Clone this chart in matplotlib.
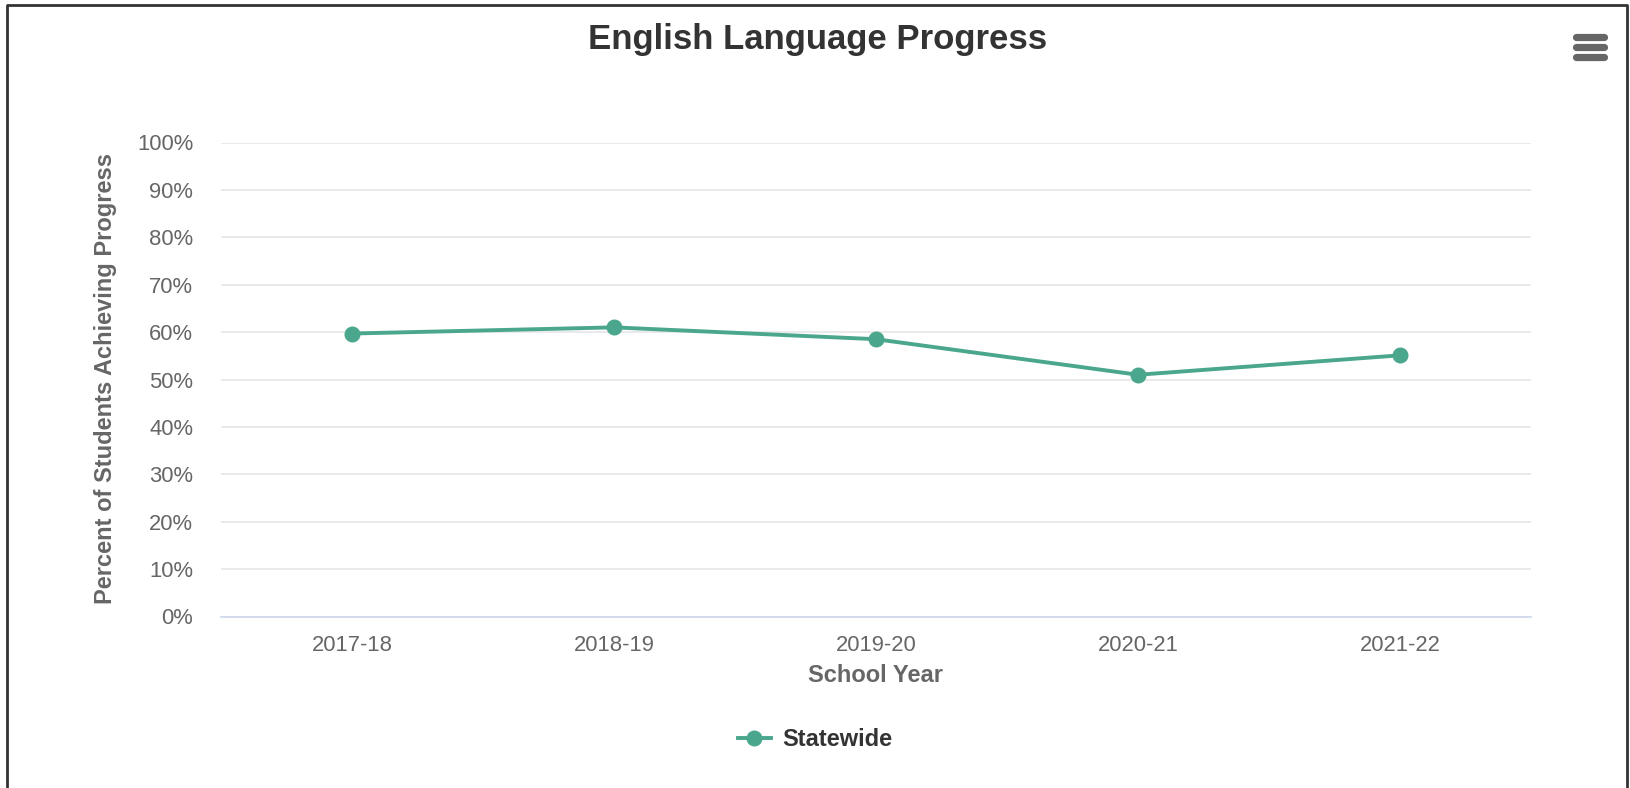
import matplotlib
matplotlib.use("Agg")
import matplotlib.pyplot as plt
from matplotlib.lines import Line2D
from matplotlib.ticker import FuncFormatter

# data
school_years = ["2017-18", "2018-19", "2019-20", "2020-21", "2021-22"]
statewide = [59.7, 61.0, 58.5, 51.0, 55.1]
y_ticks = list(range(0, 101, 10))

plt.rcParams['font.family'] = ['Liberation Sans', 'DejaVu Sans']

W, H = 1630, 788
fig = plt.figure(figsize=(W / 100, H / 100), dpi=100)
fig.patch.set_facecolor('white')

ax = fig.add_axes([221 / W, 1 - 616.5 / H, 1310 / W, 474 / H])
x = list(range(len(school_years)))
ax.plot(x, statewide, color='#4aa78d', linewidth=2.8, marker='o',
        markersize=10.5, label='Statewide', zorder=3)

ax.set_xlim(-0.5, len(school_years) - 0.5)
ax.set_ylim(0, 100)
ax.set_yticks(y_ticks)
ax.yaxis.set_major_formatter(FuncFormatter(lambda v, p: f"{v:.0f}%"))
ax.set_xticks(x)
ax.set_xticklabels(school_years)

ax.grid(axis='y', color='#e6e6e6', linewidth=1.2)
ax.set_axisbelow(True)
for s in ['top', 'right', 'left']:
    ax.spines[s].set_visible(False)
ax.spines['bottom'].set_color('#ccd6eb')
ax.spines['bottom'].set_linewidth(1.2)
ax.tick_params(axis='both', length=0, labelsize=15.8, labelcolor='#666666')
ax.tick_params(axis='y', pad=20)
ax.tick_params(axis='x', pad=13)

ax.set_ylabel("Percent of Students Achieving Progress", fontsize=17,
              fontweight='bold', color='#666666')
ax.yaxis.set_label_coords(117 / W, 1 - 379 / H, transform=fig.transFigure)
ax.set_xlabel("School Year", fontsize=17, fontweight='bold', color='#666666')
ax.xaxis.set_label_coords(876 / W, 1 - 664 / H, transform=fig.transFigure)

fig.text(818 / W, 1 - 40 / H, "English Language Progress", ha='center',
         va='center', fontsize=25, fontweight='bold', color='#333333')

leg = fig.legend(loc='center', bbox_to_anchor=(815 / W, 1 - 740 / H),
                 frameon=False, handlelength=1.4, handletextpad=0.5,
                 prop={'weight': 'bold', 'size': 17})
for t in leg.get_texts():
    t.set_color('#333333')

# hamburger menu icon
for yy in (36.7, 46.7, 56.7):
    fig.add_artist(Line2D([1576 / W, 1604 / W], [1 - yy / H, 1 - yy / H],
                          color='#666666', linewidth=5.2,
                          solid_capstyle='round'))

# outer frame (left, top, right)
frame_x = [7 / W, 7 / W, 1627 / W, 1627 / W]
frame_y = [0, 1 - 5 / H, 1 - 5 / H, 0]
fig.add_artist(Line2D(frame_x, frame_y, color='#333333', linewidth=2))

fig.savefig("out.png", dpi=100)
